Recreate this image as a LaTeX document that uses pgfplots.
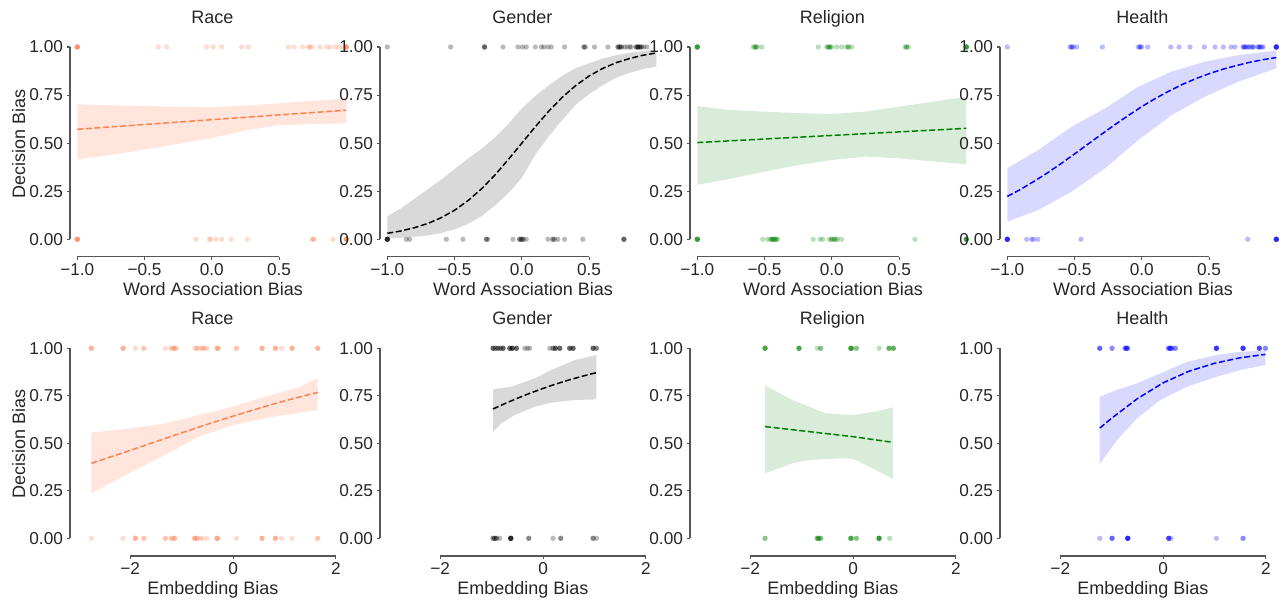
\documentclass[border=0pt]{standalone}
\usepackage{pgfplots}
\pgfplotsset{compat=1.18}
\usepackage{fontspec}
\setmainfont{Liberation Sans}
\definecolor{tc}{HTML}{262626}
\definecolor{spinec}{HTML}{555555}
\definecolor{coral}{HTML}{FF7F50}
\definecolor{grn}{HTML}{008000}
\definecolor{blu}{HTML}{0000FF}
\newcommand{\tickfont}{\fontsize{8.6}{10}\selectfont}
\newcommand{\labfont}{\fontsize{9}{11}\selectfont}
\pgfplotsset{
  every axis title shift=0pt,
  panel/.style={scale only axis, anchor=south west, clip=false,
    axis lines*=left, axis line style={draw=none},
    tick align=outside, major tick length=1.65pt,
    tick style={draw=spinec, line width=0.55pt},
    ytick={0,0.25,0.5,0.75,1}, yticklabels={0.00,0.25,0.50,0.75,1.00},
    yticklabel style={font=\tickfont, text=tc, inner sep=0pt, anchor=east, xshift=-1.7pt},
    xticklabel style={font=\tickfont, text=tc, inner sep=0pt, anchor=north, yshift=-1.5pt},
    title style={font=\labfont, text=tc, anchor=base, at={([xshift=2.1pt,yshift=7.1pt]axis description cs:0.5,1)}},
    xlabel style={font=\labfont, text=tc, anchor=base, at={([xshift=2.4pt,yshift=-19.3pt]axis description cs:0.5,0)}},
    ylabel style={font=\labfont, text=tc, anchor=base, at={([xshift=-22.5pt]axis description cs:0,0.514)}},
  },
  toprow/.style={panel, width=138.15pt, height=109.65pt, xmin=-1.0543, xmax=1, ymin=-0.0905, ymax=1.05,
    xtick={-1,-0.5,0,0.5}, xticklabels={−1.0,−0.5,0.0,0.5}, xlabel={Word Association Bias}},
  botrow/.style={panel, width=138.15pt, height=108.6pt, xmin=-3.172, xmax=2.203, ymin=-0.093, ymax=1.05,
    xtick={-2,0,2}, xticklabels={−2,0,2}, xlabel={Embedding Bias}},
  pts/.style={only marks, mark=*, mark size=1.32pt, color=#1, mark options={fill=#1, draw opacity=0, fill opacity=0.27}},
  ciband/.style={fill=#1, draw=none},
  fitline/.style={#1, line width=0.75pt, dash pattern=on 3pt off 1.3pt},
}
\newcommand{\topspines}{\draw[spinec, line width=0.55pt] (axis cs:-1.0543,0) -- (axis cs:-1.0543,1);
  \draw[spinec, line width=0.55pt] (axis cs:-1,-0.0905) -- (axis cs:0.5,-0.0905);}
\newcommand{\botspines}{\draw[spinec, line width=0.55pt] (axis cs:-3.172,0) -- (axis cs:-3.172,1);
  \draw[spinec, line width=0.55pt] (axis cs:-2,-0.093) -- (axis cs:2,-0.093);}
\begin{document}
\begin{tikzpicture}
\path[use as bounding box] (0,0) rectangle (641.5pt,301.5pt);
% ---------------- TOP ROW ----------------
\begin{axis}[toprow, at={(35pt,173.15pt)}, title={Race}, ylabel={Decision Bias}]
\addplot[ciband=coral!20] coordinates {(-1,0.702) (-0.75,0.697) (-0.5,0.693) (-0.25,0.689) (0,0.686) (0.25,0.695) (0.5,0.707) (0.75,0.72) (1,0.731)
 (1,0.603) (0.75,0.599) (0.5,0.594) (0.25,0.566) (0,0.527) (-0.25,0.497) (-0.5,0.466) (-0.75,0.44) (-1,0.416)} -- cycle;
\addplot[fitline=coral] coordinates {(-1,0.572) (-0.5,0.597) (0,0.622) (0.5,0.647) (1,0.671)};
\addplot[pts=coral] coordinates {(-1,1)(-1,1)(-1,1)(-1,1)(-1,1)(-1,1) (-0.398,1)(-0.335,1)(-0.038,1)(0.011,1)(0.074,1)(0.222,1)(0.271,1)(0.569,1)(0.611,1)(0.676,1)(0.718,1)(0.730,1)(0.743,1)(0.804,1)(0.854,1)(0.879,1)(0.92,1)(0.95,1)(0.98,1)(1,1)(1,1)(1,1)(1,1)(1,1)
 (-1,0)(-1,0)(-1,0)(-1,0)(-1,0)(-1,0) (-0.117,0)(-0.019,0)(-0.008,0)(0.031,0)(0.074,0)(0.143,0)(0.264,0)(0.75,0)(0.75,0)(0.76,0)(0.9,0)(1,0)(1,0)(1,0)(1,0)(1,0)};
\topspines
\end{axis}
\begin{axis}[toprow, at={(190pt,173.15pt)}, title={Gender}]
\addplot[ciband=black!15] coordinates {(-1,0.12) (-0.9,0.16) (-0.8,0.21) (-0.7,0.26) (-0.6,0.31) (-0.5,0.365) (-0.4,0.42) (-0.3,0.47) (-0.2,0.53) (-0.1,0.60) (0,0.68) (0.1,0.745) (0.2,0.80) (0.3,0.85) (0.4,0.89) (0.5,0.915) (0.6,0.94) (0.7,0.957) (0.8,0.97) (0.9,0.979) (1,0.985)
 (1,0.898) (0.9,0.885) (0.8,0.865) (0.7,0.84) (0.6,0.80) (0.5,0.755) (0.4,0.70) (0.3,0.62) (0.2,0.535) (0.1,0.44) (0,0.32) (-0.1,0.24) (-0.2,0.175) (-0.3,0.12) (-0.4,0.08) (-0.5,0.052) (-0.6,0.032) (-0.7,0.02) (-0.8,0.013) (-0.9,0.008) (-1,0.005)} -- cycle;
\addplot[fitline=black] coordinates {(-1,0.031) (-0.9,0.043) (-0.8,0.060) (-0.7,0.082) (-0.6,0.112) (-0.5,0.151) (-0.4,0.201) (-0.3,0.262) (-0.2,0.334) (-0.1,0.415) (0,0.5) (0.1,0.585) (0.2,0.666) (0.3,0.738) (0.4,0.799) (0.5,0.849) (0.6,0.888) (0.7,0.918) (0.8,0.940) (0.9,0.957) (1,0.969)};
\addplot[pts=black] coordinates {(-1,1)(-0.529,1)(-0.277,1)(-0.277,1)(-0.277,1)(-0.14,1)(-0.029,1)(0.004,1)(0.033,1)(0.100,1)(0.145,1)(0.164,1)(0.194,1)(0.219,1)(0.318,1)(0.462,1)(0.462,1)(0.474,1)(0.541,1)(0.640,1)(0.715,1)(0.715,1)(0.727,1)(0.727,1)(0.740,1)(0.740,1)(0.764,1)(0.784,1)(0.802,1)(0.814,1)(0.851,1)(0.851,1)(0.863,1)(0.863,1)(0.863,1)(0.876,1)(0.876,1)(0.888,1)(0.888,1)(0.908,1)(0.93,1)
 (-1,0)(-1,0)(-1,0)(-1,0)(-1,0)(-1,0)(-0.859,0)(-0.834,0)(-0.561,0)(-0.438,0)(-0.264,0)(-0.264,0)(-0.252,0)(-0.066,0)(-0.016,0)(-0.016,0)(-0.004,0)(-0.004,0)(0.009,0)(0.009,0)(0.033,0)(0.194,0)(0.231,0)(0.231,0)(0.244,0)(0.268,0)(0.318,0)(0.454,0)(0.759,0)(0.759,0)(0.759,0)};
\topspines
\end{axis}
\begin{axis}[toprow, at={(345pt,173.15pt)}, title={Religion}]
\addplot[ciband=grn!15] coordinates {(-1,0.693) (-0.75,0.672) (-0.5,0.664) (-0.25,0.656) (0,0.652) (0.25,0.664) (0.5,0.69) (0.75,0.715) (1,0.742)
 (1,0.39) (0.75,0.405) (0.5,0.421) (0.25,0.43) (0,0.412) (-0.25,0.385) (-0.5,0.352) (-0.75,0.315) (-1,0.283)} -- cycle;
\addplot[fitline=grn] coordinates {(-1,0.503) (0,0.54) (1,0.577)};
\addplot[pts=grn] coordinates {(-1,1)(-1,1)(-1,1)(-1,1)(-1,1)(-0.584,1)(-0.571,1)(-0.571,1)(-0.559,1)(-0.559,1)(-0.522,1)(-0.100,1)(-0.038,1)(-0.026,1)(-0.026,1)(-0.014,1)(-0.014,1)(-0.001,1)(0.036,1)(0.073,1)(0.110,1)(0.123,1)(0.123,1)(0.147,1)(0.544,1)(0.556,1)(0.556,1)(0.569,1)(1,1)(1,1)(1,1)(1,1)(1,1)
 (-1,0)(-1,0)(-1,0)(-1,0)(-1,0)(-0.514,0)(-0.477,0)(-0.452,0)(-0.452,0)(-0.44,0)(-0.44,0)(-0.428,0)(-0.428,0)(-0.415,0)(-0.415,0)(-0.403,0)(-0.138,0)(-0.088,0)(-0.068,0)(-0.019,0)(-0.001,0)(-0.001,0)(0.018,0)(0.018,0)(0.031,0)(0.043,0)(0.073,0)(0.618,0)(1,0)(1,0)(1,0)(1,0)(1,0)};
\topspines
\end{axis}
\begin{axis}[toprow, at={(500pt,173.15pt)}, title={Health}]
\addplot[ciband=blu!15] coordinates {(-1,0.369) (-0.77,0.464) (-0.521,0.586) (-0.273,0.681) (-0.026,0.794) (0.222,0.872) (0.47,0.924) (0.718,0.958) (1,0.981)
 (1,0.889) (0.718,0.82) (0.47,0.742) (0.222,0.646) (-0.026,0.516) (-0.273,0.369) (-0.521,0.248) (-0.77,0.152) (-1,0.092)} -- cycle;
\addplot[fitline=blu] coordinates {(-1,0.223) (-0.9,0.260) (-0.8,0.302) (-0.7,0.346) (-0.6,0.394) (-0.5,0.444) (-0.4,0.495) (-0.3,0.546) (-0.2,0.596) (-0.1,0.644) (0,0.690) (0.1,0.732) (0.2,0.770) (0.3,0.805) (0.4,0.835) (0.5,0.861) (0.6,0.884) (0.7,0.903) (0.8,0.920) (0.9,0.934) (1,0.945)};
\addplot[pts=blu] coordinates {(-1,1)(-0.534,1)(-0.521,1)(-0.521,1)(-0.509,1)(-0.484,1)(-0.293,1)(-0.026,1)(-0.013,1)(-0.013,1)(-0.001,1)(0.044,1)(0.215,1)(0.277,1)(0.358,1)(0.465,1)(0.544,1)(0.606,1)(0.663,1)(0.693,1)(0.755,1)(0.755,1)(0.767,1)(0.767,1)(0.780,1)(0.797,1)(0.797,1)(0.817,1)(0.829,1)(0.829,1)(0.866,1)(0.866,1)(0.879,1)(0.879,1)(0.891,1)(0.903,1)(1,1)(1,1)(1,1)(1,1)(1,1)(1,1)
 (-1,0)(-1,0)(-1,0)(-1,0)(-1,0)(-1,0)(-0.856,0)(-0.819,0)(-0.806,0)(-0.774,0)(-0.452,0)(0.787,0)(1,0)(1,0)(1,0)(1,0)(1,0)(1,0)};
\topspines
\end{axis}
% ---------------- BOTTOM ROW ----------------
\begin{axis}[botrow, at={(35pt,23.5pt)}, title={Race}, ylabel={Decision Bias}]
\addplot[ciband=coral!20] coordinates {(-2.756,0.556) (-1.965,0.579) (-1.316,0.605) (-0.668,0.649) (0,0.693) (0.629,0.746) (1.278,0.795) (1.647,0.842)
 (1.647,0.675) (1.278,0.661) (0.629,0.632) (0,0.596) (-0.668,0.535) (-1.316,0.439) (-1.965,0.351) (-2.756,0.237)} -- cycle;
\addplot[fitline=coral] coordinates {(-2.756,0.395) (-2.5,0.418) (-2,0.463) (-1.5,0.509) (-1,0.555) (-0.5,0.600) (0,0.643) (0.5,0.684) (1,0.723) (1.5,0.758) (1.647,0.768)};
\addplot[pts=coral] coordinates {(-2.756,1)(-2.756,1)(-2.756,1)(-2.140,1)(-2.140,1)(-2.140,1)(-1.900,1)(-1.738,1)(-1.738,1)(-1.316,1)(-1.200,1)(-1.200,1)(-1.141,1)(-1.141,1)(-1.141,1)(-1.102,1)(-0.746,1)(-0.700,1)(-0.700,1)(-0.636,1)(-0.590,1)(-0.590,1)(-0.551,1)(-0.506,1)(-0.311,1)(-0.311,1)(-0.292,1)(-0.292,1)(0.065,1)(0.065,1)(0.564,1)(0.564,1)(0.564,1)(0.824,1)(0.824,1)(0.824,1)(0.940,1)(1.148,1)(1.148,1)(1.148,1)(1.647,1)(1.647,1)(1.647,1)
 (-2.756,0)(-2.140,0)(-1.900,0)(-1.900,0)(-1.900,0)(-1.738,0)(-1.738,0)(-1.316,0)(-1.316,0)(-1.200,0)(-1.200,0)(-1.141,0)(-1.141,0)(-1.141,0)(-0.746,0)(-0.746,0)(-0.746,0)(-0.700,0)(-0.700,0)(-0.636,0)(-0.590,0)(-0.506,0)(-0.311,0)(-0.311,0)(-0.311,0)(-0.292,0)(0.065,0)(0.564,0)(0.564,0)(0.564,0)(0.824,0)(0.824,0)(0.824,0)(0.940,0)(1.148,0)(1.647,0)(1.647,0)};
\botspines
\end{axis}
\begin{axis}[botrow, at={(190pt,23.5pt)}, title={Gender}]
\addplot[ciband=black!15] coordinates {(-0.973,0.784) (-0.615,0.798) (-0.161,0.842) (0.163,0.886) (0.617,0.938) (1.039,0.965)
 (1.039,0.731) (0.617,0.728) (0.163,0.714) (-0.161,0.693) (-0.551,0.649) (-0.81,0.605) (-0.973,0.561)} -- cycle;
\addplot[fitline=black] coordinates {(-0.973,0.681) (-0.75,0.708) (-0.5,0.737) (-0.25,0.764) (0,0.789) (0.25,0.812) (0.5,0.833) (0.75,0.852) (1.038,0.872)};
\addplot[pts=black] coordinates {(-0.972,1)(-0.972,1)(-0.972,1)(-0.920,1)(-0.920,1)(-0.875,1)(-0.875,1)(-0.829,1)(-0.829,1)(-0.778,1)(-0.778,1)(-0.778,1)(-0.648,1)(-0.648,1)(-0.648,1)(-0.602,1)(-0.602,1)(-0.602,1)(-0.602,1)(-0.518,1)(-0.518,1)(-0.518,1)(-0.356,1)(-0.304,1)(-0.259,1)(0.130,1)(0.195,1)(0.195,1)(0.241,1)(0.241,1)(0.241,1)(0.325,1)(0.325,1)(0.325,1)(0.519,1)(0.519,1)(0.519,1)(0.584,1)(0.584,1)(0.584,1)(0.973,1)(0.973,1)(0.973,1)(1.038,1)(1.038,1)
 (-0.972,0)(-0.972,0)(-0.940,0)(-0.940,0)(-0.907,0)(-0.907,0)(-0.843,0)(-0.628,0)(-0.628,0)(-0.628,0)(-0.628,0)(-0.628,0)(-0.628,0)(-0.278,0)(-0.278,0)(0.195,0)(0.344,0)(0.344,0)(0.973,0)(0.973,0)(1.038,0)};
\botspines
\end{axis}
\begin{axis}[botrow, at={(345pt,23.5pt)}, title={Religion}]
\addplot[ciband=grn!15] coordinates {(-1.712,0.804) (-1.18,0.728) (-0.532,0.658) (0,0.649) (0.441,0.667) (0.778,0.689)
 (0.778,0.312) (0.441,0.36) (0,0.418) (-0.208,0.421) (-0.856,0.412) (-1.18,0.395) (-1.712,0.342)} -- cycle;
\addplot[fitline=grn] coordinates {(-1.712,0.588) (-1,0.566) (0,0.535) (0.778,0.505)};
\addplot[pts=grn] coordinates {(-1.712,1)(-1.712,1)(-1.712,1)(-1.712,1)(-1.051,1)(-1.051,1)(-1.051,1)(-1.051,1)(-0.694,1)(-0.629,1)(-0.629,1)(-0.045,1)(-0.045,1)(-0.045,1)(-0.026,1)(-0.026,1)(0.065,1)(0.065,1)(0.506,1)(0.700,1)(0.700,1)(0.700,1)(0.785,1)(0.785,1)(0.785,1)
 (-1.712,0)(-1.712,0)(-0.70,0)(-0.70,0)(-0.67,0)(-0.67,0)(-0.67,0)(-0.629,0)(-0.629,0)(-0.045,0)(-0.045,0)(-0.045,0)(-0.026,0)(0.065,0)(0.065,0)(0.506,0)(0.506,0)(0.506,0)(0.506,0)(0.506,0)(0.712,0)};
\botspines
\end{axis}
\begin{axis}[botrow, at={(500pt,23.5pt)}, title={Health}]
\addplot[ciband=blu!15] coordinates {(-1.232,0.745) (-0.895,0.781) (-0.506,0.816) (-0.052,0.868) (0.467,0.929) (1.051,0.965) (1.505,0.982) (1.991,0.987)
 (1.991,0.912) (1.505,0.886) (1.051,0.851) (0.467,0.798) (-0.052,0.728) (-0.506,0.631) (-0.895,0.517) (-1.232,0.391)} -- cycle;
\addplot[fitline=blu] coordinates {(-1.232,0.58) (-1,0.632) (-0.5,0.735) (0,0.818) (0.5,0.879) (1,0.921) (1.5,0.950) (1.991,0.968)};
\addplot[pts=blu] coordinates {(-1.232,1)(-1.232,1)(-1.232,1)(-0.992,1)(-0.992,1)(-0.740,1)(-0.740,1)(-0.713,1)(-0.713,1)(-0.713,1)(-0.690,1)(-0.690,1)(0.110,1)(0.110,1)(0.110,1)(0.143,1)(0.143,1)(0.143,1)(0.175,1)(0.175,1)(0.240,1)(0.240,1)(1.038,1)(1.038,1)(1.038,1)(1.038,1)(1.038,1)(1.556,1)(1.556,1)(1.556,1)(1.556,1)(1.556,1)(1.874,1)(1.874,1)(1.874,1)(1.874,1)(1.991,1)(1.991,1)
 (-1.232,0)(-0.992,0)(-0.992,0)(-0.992,0)(-0.687,0)(-0.687,0)(-0.687,0)(-0.687,0)(-0.687,0)(-0.687,0)(0.110,0)(0.110,0)(0.110,0)(0.110,0)(0.156,0)(1.038,0)(1.556,0)(1.556,0)};
\botspines
\end{axis}
\end{tikzpicture}
\end{document}
